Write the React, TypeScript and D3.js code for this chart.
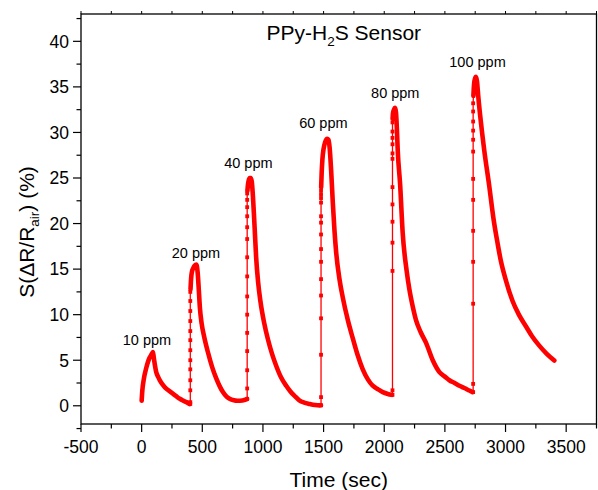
import React from "react";
import * as d3 from "d3";

const W = 598;
const H = 490;
const PLOT = { left: 81, right: 596.5, top: 14, bottom: 424 };
const FONT = "'Liberation Sans', Arial, Helvetica, sans-serif";
const RED = "#ff0000";

// Axis ticks
const xDomain = [-500, 3750];
const yDomain = [-2, 43];
const xTicks = [-500, 0, 500, 1000, 1500, 2000, 2500, 3000, 3500];
const xTickLabels = ["-500", "0", "500", "1000", "1500", "2000", "2500", "3000", "3500"];
const xMinorTicks = [-250, 250, 750, 1250, 1750, 2250, 2750, 3250, 3750];
const yTicks = [0, 5, 10, 15, 20, 25, 30, 35, 40];
const yTickLabels = ["0", "5", "10", "15", "20", "25", "30", "35", "40"];
const yMinorTicks = [-2.5, 2.5, 7.5, 12.5, 17.5, 22.5, 27.5, 32.5, 37.5, 42.5];

// Cycle labels (anchor in data space: time, value)
const cycleLabels = ["10 ppm", "20 ppm", "40 ppm", "60 ppm", "80 ppm", "100 ppm"];
const labelTime = [44, 448, 880, 1498, 2091, 2769];
const labelValue = [6.7, 16.2, 26.1, 30.5, 33.75, 37.2];

// Cycle 1 (10 ppm)
const c1Time = [0, 4, 8, 14, 20, 28, 39, 52, 66, 80, 93, 100, 110, 120, 135, 150, 175, 205, 230, 260, 290, 315, 340, 370, 395];
const c1Value = [0.55, 1.4, 2.0, 2.6, 3.1, 3.6, 4.2, 4.8, 5.3, 5.6, 5.9, 5.3, 4.4, 3.7, 3.2, 2.8, 2.3, 1.85, 1.6, 1.3, 1.0, 0.77, 0.58, 0.4, 0.2];

// Cycle 2 (20 ppm)
const c2RiseTime = 401;
const c2Rise = [0.2, 0.4, 1.7, 2.8, 4.0, 5.0, 6.1, 7.2, 8.2, 9.3, 10.4, 11.5, 12.5];
const c2Time = [403, 406, 410, 416, 425, 438, 450, 456, 462, 470, 480, 495, 515, 546, 580, 615, 645, 670, 700, 725, 760, 790, 830, 862, 869];
const c2Value = [12.8, 13.6, 14.3, 14.8, 15.1, 15.4, 15.5, 15.3, 14.6, 13.0, 10.8, 9.0, 7.6, 5.9, 4.3, 3.0, 2.1, 1.5, 1.0, 0.77, 0.6, 0.55, 0.58, 0.7, 0.75];

// Cycle 3 (40 ppm)
const c3RiseTime = 870;
const c3Rise = [0.75, 1.9, 3.9, 6.0, 8.0, 10.0, 12.0, 14.2, 16.3, 18.3, 19.6, 20.8, 21.8, 22.6, 23.3];
const c3Time = [872, 876, 882, 890, 900, 908, 915, 925, 935, 944, 960, 980, 1010, 1041, 1075, 1109, 1150, 1192, 1225, 1260, 1300, 1340, 1384, 1430, 1466, 1478];
const c3Value = [23.6, 24.2, 24.7, 25.0, 25.0, 24.6, 23.5, 21.2, 18.6, 16.3, 13.6, 11.4, 9.1, 7.3, 5.7, 4.4, 3.1, 2.2, 1.6, 1.1, 0.6, 0.35, 0.2, 0.08, 0.04, 0.05];

// Cycle 4 (60 ppm)
const c4RiseTime = 1479;
const c4Rise = [0.05, 0.95, 5.6, 9.6, 12.1, 13.9, 15.8, 17.2, 18.8, 20.1, 20.8, 22.3, 22.8, 23.2, 23.6];
const c4Time = [1480, 1484, 1490, 1500, 1512, 1530, 1540, 1550, 1562, 1576, 1590, 1604, 1631, 1658, 1700, 1741, 1780, 1823, 1865, 1905, 1950, 1988, 2030, 2062];
const c4Value = [24.0, 25.5, 27.0, 28.2, 28.9, 29.3, 29.2, 28.3, 25.9, 22.3, 19.2, 16.8, 13.9, 11.9, 9.4, 7.4, 5.6, 4.0, 2.9, 2.2, 1.8, 1.5, 1.3, 1.2];

// Cycle 5 (80 ppm)
const c5RiseTime = 2068;
const c5Rise = [1.2, 1.7, 14.8, 17.9, 20.2, 22.1, 24.0, 27.1, 27.7, 28.7, 29.4, 30.1, 31.1];
const c5Time = [2069, 2072, 2080, 2090, 2097, 2104, 2111, 2131, 2152, 2185, 2207, 2235, 2262, 2300, 2345, 2400, 2455, 2500, 2537, 2580, 2620, 2660, 2702, 2728];
const c5Value = [31.5, 32.1, 32.5, 32.7, 32.2, 30.5, 28.1, 24.3, 19.0, 14.8, 12.8, 10.9, 9.4, 8.1, 6.9, 5.0, 3.7, 3.2, 2.8, 2.5, 2.2, 1.95, 1.67, 1.5];

// Cycle 6 (100 ppm)
const c6RiseTime = 2733;
const c6Rise = [1.5, 2.4, 11.2, 15.8, 19.2, 22.6, 24.9, 27.9, 29.2, 30.2, 31.2, 32.3, 33.2];
const c6Time = [2735, 2740, 2748, 2757, 2765, 2775, 2798, 2825, 2866, 2900, 2935, 2960, 3000, 3058, 3110, 3169, 3220, 3278, 3340, 3402];
const c6Value = [34.0, 35.2, 35.9, 36.1, 35.6, 34.0, 31.0, 28.0, 24.1, 20.6, 17.8, 16.0, 13.9, 11.5, 10.0, 8.7, 7.6, 6.6, 5.7, 4.96];

type P = [number, number];
const zip = (t: number[], v: number[]): P[] => t.map((ti, i) => [ti, v[i]]);
const risePts = (t: number, v: number[]): P[] => v.map((vi) => [t, vi]);

const cycles = [
  { rise: [] as P[], dense: zip(c1Time, c1Value) },
  { rise: risePts(c2RiseTime, c2Rise), dense: zip(c2Time, c2Value) },
  { rise: risePts(c3RiseTime, c3Rise), dense: zip(c3Time, c3Value) },
  { rise: risePts(c4RiseTime, c4Rise), dense: zip(c4Time, c4Value) },
  { rise: risePts(c5RiseTime, c5Rise), dense: zip(c5Time, c5Value) },
  { rise: risePts(c6RiseTime, c6Rise), dense: zip(c6Time, c6Value) },
];

export default function App() {
  const x = d3.scaleLinear().domain(xDomain).range([PLOT.left, PLOT.right]);
  const y = d3.scaleLinear().domain(yDomain).range([PLOT.bottom, PLOT.top]);

  const allPts: P[] = [];
  cycles.forEach((c) => {
    allPts.push(...c.rise, ...c.dense);
  });
  const thin = d3.line<P>().x((d) => x(d[0])).y((d) => y(d[1]));
  const thick = d3
    .line<P>()
    .x((d) => x(d[0]))
    .y((d) => y(d[1]))
    .curve(d3.curveMonotoneX);

  const tickFs = 17.5;
  const titleFs = 21;

  return (
    <svg
      width={W}
      height={H}
      viewBox={`0 0 ${W} ${H}`}
      style={{ position: "absolute", left: 0, top: 0, background: "#fff" }}
      fontFamily={FONT}
    >
      <rect x={0} y={0} width={W} height={H} fill="#fff" />

      {/* data */}
      <path d={thin(allPts) || ""} fill="none" stroke={RED} strokeWidth={1.3} />
      {cycles.map((c, i) => (
        <path
          key={"d" + i}
          d={thick(c.dense) || ""}
          fill="none"
          stroke={RED}
          strokeWidth={4.6}
          strokeLinecap="round"
          strokeLinejoin="round"
        />
      ))}
      {cycles.map((c, i) =>
        c.rise.map((p, j) => (
          <rect
            key={`m${i}-${j}`}
            x={x(p[0]) - 1.9}
            y={y(p[1]) - 1.9}
            width={3.8}
            height={3.8}
            fill={RED}
          />
        ))
      )}

      {/* frame */}
      <rect
        x={PLOT.left}
        y={PLOT.top}
        width={PLOT.right - PLOT.left}
        height={PLOT.bottom - PLOT.top}
        fill="none"
        stroke="#000"
        strokeWidth={1.3}
      />

      {/* x axis ticks */}
      {xTicks.map((t, i) => (
        <g key={"xt" + i}>
          <line x1={x(t)} x2={x(t)} y1={PLOT.bottom} y2={PLOT.bottom + 8} stroke="#000" strokeWidth={1.2} />
          <line x1={x(t)} x2={x(t)} y1={PLOT.top} y2={PLOT.top - 3} stroke="#000" strokeWidth={1} />
          <text x={x(t)} y={452.5} textAnchor="middle" fontSize={tickFs} fill="#000">
            {xTickLabels[i]}
          </text>
        </g>
      ))}
      {xMinorTicks
        .filter((t) => x(t) <= PLOT.right)
        .map((t, i) => (
          <g key={"xm" + i}>
            <line x1={x(t)} x2={x(t)} y1={PLOT.bottom} y2={PLOT.bottom + 4.5} stroke="#000" strokeWidth={1.2} />
            <line x1={x(t)} x2={x(t)} y1={PLOT.top} y2={PLOT.top - 3} stroke="#000" strokeWidth={1} />
          </g>
        ))}

      {/* y axis ticks */}
      {yTicks.map((t, i) => (
        <g key={"yt" + i}>
          <line x1={PLOT.left - 8} x2={PLOT.left} y1={y(t)} y2={y(t)} stroke="#000" strokeWidth={1.2} />
          <text x={69} y={y(t)} dy="0.36em" textAnchor="end" fontSize={tickFs} fill="#000">
            {yTickLabels[i]}
          </text>
        </g>
      ))}
      {yMinorTicks.map((t, i) => (
        <line key={"ym" + i} x1={PLOT.left - 4.5} x2={PLOT.left} y1={y(t)} y2={y(t)} stroke="#000" strokeWidth={1.2} />
      ))}

      {/* cycle labels */}
      {cycleLabels.map((s, i) => (
        <text key={"l" + i} x={x(labelTime[i])} y={y(labelValue[i])} textAnchor="middle" fontSize={14.5} fill="#000">
          {s}
        </text>
      ))}

      {/* title */}
      <text x={266.5} y={40} fontSize={titleFs} fill="#000">
        PPy-H
        <tspan fontSize={13.5} dy={6}>2</tspan>
        <tspan dy={-6}>S Sensor</tspan>
      </text>

      {/* axis titles */}
      <text x={(PLOT.left + PLOT.right) / 2} y={487} textAnchor="middle" fontSize={titleFs} fill="#000">
        Time (sec)
      </text>
      <text transform="translate(34,232) rotate(-90)" textAnchor="middle" fontSize={titleFs} fill="#000">
        S(ΔR/R
        <tspan fontSize={13.5} dy={5}>air</tspan>
        <tspan dy={-5}>) (%)</tspan>
      </text>
    </svg>
  );
}
